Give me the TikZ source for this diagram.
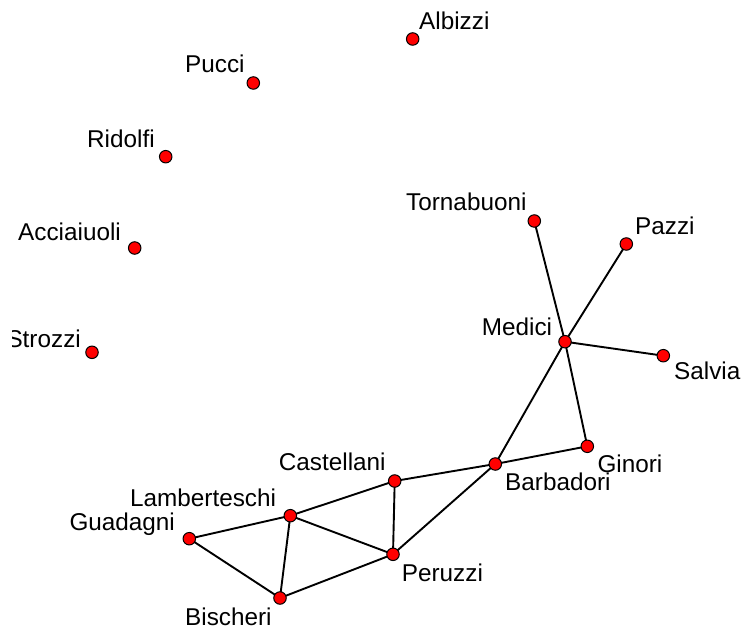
\documentclass[tikz,border=0pt]{standalone}
\usepackage{fontspec}
\setmainfont{Liberation Sans}
\pgfdeclarelayer{bg}
\pgfsetlayers{bg,main}
\begin{document}
\begin{tikzpicture}[x=1pt,y=-1pt,
  vtx/.style={circle,draw=black,fill=red,line width=1pt,inner sep=0pt,minimum size=12.5pt},
  lbl/.style={inner sep=0pt,anchor=base west,font=\fontsize{24.3}{28}\selectfont},
  edge/.style={draw=black,line width=1.9pt}]
\useasboundingbox (0,0) rectangle (744,631);
\clip (12.5,0) rectangle (744,631);
% vertices
\node[vtx] (alb) at (412.7,39) {};
\node[vtx] (puc) at (253.3,83) {};
\node[vtx] (rid) at (165.7,156.7) {};
\node[vtx] (acc) at (134.7,248) {};
\node[vtx] (str) at (92,352.3) {};
\node[vtx] (tor) at (534.3,221) {};
\node[vtx] (paz) at (626.3,244) {};
\node[vtx] (med) at (565,341.7) {};
\node[vtx] (sal) at (663.3,355.7) {};
\node[vtx] (gin) at (587.3,446.3) {};
\node[vtx] (bar) at (495.3,464) {};
\node[vtx] (cas) at (394.7,481) {};
\node[vtx] (lam) at (290.3,515.7) {};
\node[vtx] (gua) at (189.3,538.7) {};
\node[vtx] (per) at (393,554.3) {};
\node[vtx] (bis) at (280,598) {};
% edges
\begin{pgfonlayer}{bg}
\draw[edge] (tor.center) -- (med.center);
\draw[edge] (paz.center) -- (med.center);
\draw[edge] (med.center) -- (sal.center);
\draw[edge] (med.center) -- (gin.center);
\draw[edge] (med.center) -- (bar.center);
\draw[edge] (bar.center) -- (gin.center);
\draw[edge] (bar.center) -- (cas.center);
\draw[edge] (bar.center) -- (per.center);
\draw[edge] (cas.center) -- (per.center);
\draw[edge] (cas.center) -- (lam.center);
\draw[edge] (lam.center) -- (per.center);
\draw[edge] (lam.center) -- (bis.center);
\draw[edge] (lam.center) -- (gua.center);
\draw[edge] (gua.center) -- (bis.center);
\draw[edge] (bis.center) -- (per.center);
\end{pgfonlayer}
% labels
\node[lbl] (lalb) at (419,29.3) {Albizzi};
\node[lbl] (lpuc) at (185,72.7) {Pucci};
\node[lbl] (lrid) at (87,147.7) {Ridolfi};
\node[lbl] (lacc) at (18,240.7) {Acciaiuoli};
\node[lbl,anchor=base east] (lstr) at (81,347.7) {Strozzi};
\node[lbl] (ltor) at (406,211) {Tornabuoni};
\node[lbl] (lpaz) at (635,234) {Pazzi};
\node[lbl] (lmed) at (481.7,335.7) {Medici};
\node[lbl] (lsal) at (674,379) {Salvia};
\node[lbl] (lgin) at (597.3,472.3) {Ginori};
\node[lbl] (lbar) at (505,490) {Barbadori};
\node[lbl] (lcas) at (278.7,470.7) {Castellani};
\node[lbl] (llam) at (130,506) {Lamberteschi};
\node[lbl] (lgua) at (69.3,530.7) {Guadagni};
\node[lbl] (lper) at (401.7,581.7) {Peruzzi};
\node[lbl] (lbis) at (185,625) {Bischeri};
\end{tikzpicture}
\end{document}
